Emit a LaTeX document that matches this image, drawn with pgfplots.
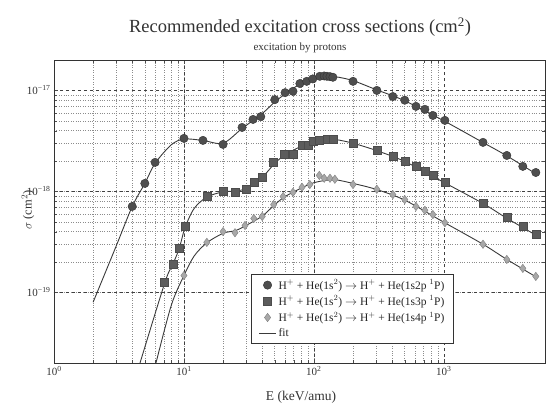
\documentclass[border=0pt]{standalone}
\usepackage{fontspec}
\setmainfont{Liberation Serif}
\usepackage{pgfplots}
\pgfplotsset{compat=1.18}
\usepackage{pgfplotstable}
\definecolor{cA}{HTML}{4E4E4E}
\definecolor{cB}{HTML}{5C5C5C}
\definecolor{cC}{HTML}{A8A8A8}
\definecolor{fitc}{HTML}{3A3A3A}

\pgfplotstableread{
x y
4 7.1e-19
5 1.2e-18
6 1.94e-18
10 3.35e-18
14 3.2e-18
20 2.92e-18
28 4.3e-18
34 5.16e-18
39 5.5e-18
50 8.1e-18
60 9.5e-18
69 9.8e-18
78 1.17e-17
88 1.23e-17
98 1.3e-17
111 1.38e-17
120 1.39e-17
126 1.38e-17
133 1.37e-17
140 1.35e-17
200 1.23e-17
305 1.0e-17
405 8.7e-18
500 8.0e-18
610 6.95e-18
714 6.5e-18
823 5.65e-18
1018 5.05e-18
2000 3.06e-18
3050 2.27e-18
4050 1.77e-18
5100 1.54e-18
}\dataA

\pgfplotstableread{
x y
7.1 1.26e-19
8.2 1.89e-19
9.2 2.73e-19
10.2 4.5e-19
15 8.9e-19
20 1.0e-18
25 9.8e-19
30 1.05e-18
34.5 1.23e-18
40 1.38e-18
49 1.94e-18
59 2.32e-18
69 2.32e-18
81 2.85e-18
90 2.9e-18
98 3.13e-18
110 3.2e-18
126 3.27e-18
140 3.27e-18
200 2.99e-18
305 2.55e-18
405 2.22e-18
500 1.98e-18
610 1.77e-18
714 1.58e-18
823 1.44e-18
1018 1.23e-18
2000 7.6e-19
3050 5.53e-19
4050 4.5e-19
5100 3.75e-19
}\dataB

\pgfplotstableread{
x y
10 1.47e-19
15 3.13e-19
20 4.0e-19
24.7 3.9e-19
29.5 4.6e-19
34.5 5.4e-19
40 5.65e-19
49 7.4e-19
58 8.9e-19
69 9.8e-19
81 1.1e-18
93 1.17e-18
110 1.44e-18
120 1.35e-18
133 1.35e-18
145 1.32e-18
200 1.17e-18
305 1.05e-18
405 9.3e-19
500 8.3e-19
610 7.1e-19
714 6.5e-19
823 5.9e-19
1018 4.9e-19
2000 3.0e-19
3050 2.12e-19
4050 1.73e-19
5100 1.44e-19
}\dataC

\pgfplotstableread{
x y
2 8e-20
3 2.85e-19
4 7.1e-19
5 1.2e-18
6 1.9e-18
8 2.9e-18
10 3.3e-18
14 3.2e-18
20 3.0e-18
28 4.2e-18
40 5.9e-18
50 7.7e-18
60 9.2e-18
80 1.18e-17
100 1.32e-17
125 1.38e-17
150 1.36e-17
200 1.25e-17
300 1.02e-17
500 7.9e-18
1000 5.0e-18
2000 3.05e-18
3000 2.28e-18
5000 1.52e-18
}\fitA

\pgfplotstableread{
x y
4.59 2e-20
7.14 1.26e-19
8.2 1.89e-19
9.2 2.73e-19
10.2 4.4e-19
12 6.8e-19
15 8.8e-19
20 9.9e-19
25 1.01e-18
30 1.07e-18
40 1.38e-18
50 1.9e-18
60 2.3e-18
80 2.8e-18
100 3.1e-18
130 3.25e-18
150 3.25e-18
200 3.0e-18
300 2.55e-18
500 1.98e-18
1000 1.23e-18
2000 7.6e-19
3000 5.5e-19
5000 3.75e-19
}\fitB

\pgfplotstableread{
x y
6.09 2e-20
8 7.5e-20
10 1.47e-19
12 2.3e-19
15 3.1e-19
20 3.85e-19
25 4.1e-19
30 4.6e-19
40 5.7e-19
50 7.4e-19
60 8.9e-19
80 1.08e-18
100 1.22e-18
130 1.3e-18
150 1.3e-18
200 1.2e-18
300 1.05e-18
500 8.2e-19
1000 4.95e-19
2000 3.0e-19
3000 2.15e-19
5000 1.45e-19
}\fitC

\begin{document}
\begin{tikzpicture}
\begin{axis}[
  at={(0,0)}, anchor=south west,
  scale only axis,
  width=491pt, height=303pt,
  xmode=log, ymode=log,
  xmin=1, xmax=6000,
  ymin=2e-20, ymax=2e-17,
  grid=both,
  major grid style={black!75, dashed, line width=0.6pt},
  minor grid style={black!45, dotted, line width=0.6pt},
  axis line style={black!80, line width=0.8pt},
  tick style={black!70},
  xtick={1,10,100,1000},
  ytick={1e-19,1e-18,1e-17},
  xticklabel={\pgfmathparse{int(round(\tick/ln(10)))}10\textsuperscript{\pgfmathresult}},
  yticklabel={\pgfmathparse{int(round(-\tick/ln(10)))}10\textsuperscript{−\pgfmathresult}},
  tick label style={font=\fontsize{11}{13}\selectfont, text=black!80},
  xlabel={E (keV/amu)},
  xlabel style={font=\fontsize{13.5}{15}\selectfont, text=black!80, at={(axis description cs:0.503,-0.112)}, anchor=center},
  ylabel={$\sigma$ (cm$^2$)},
  ylabel style={font=\fontsize{12.5}{14}\selectfont, text=black!80, at={(axis description cs:-0.053,0.505)}, anchor=center},
  legend style={at={(0.814,0.066)}, anchor=south east, draw=black!80, fill=white,
    font=\fontsize{11.5}{13}\selectfont, text=black!85, row sep=1.2pt, inner ysep=3pt, inner xsep=7pt},
  legend cell align=left,
]
\addplot[only marks, mark=*, mark size=4.2pt, mark options={fill=cA, draw=black!80}] table {\dataA};
\addlegendentry{H$^+$ + He(1s$^2$) $\rightarrow$ H$^+$ + He(1s2p $^1$P)}
\addplot[only marks, mark=square*, mark size=4pt, mark options={fill=cB, draw=black!70}] table {\dataB};
\addlegendentry{H$^+$ + He(1s$^2$) $\rightarrow$ H$^+$ + He(1s3p $^1$P)}
\addplot[only marks, mark=diamond*, mark size=4.2pt, mark options={fill=cC, draw=black!50}] table {\dataC};
\addlegendentry{H$^+$ + He(1s$^2$) $\rightarrow$ H$^+$ + He(1s4p $^1$P)}
\addplot[fitc, line width=0.9pt, smooth, tension=0.5, no markers] table {\fitA};
\addlegendentry{fit}
\addplot[fitc, line width=0.9pt, smooth, tension=0.5, no markers, forget plot] table {\fitB};
\addplot[fitc, line width=0.9pt, smooth, tension=0.5, no markers, forget plot] table {\fitC};
\end{axis}
\node[font=\fontsize{18.5}{20}\selectfont, text=black!80] at (246pt,336pt) {Recommended excitation cross sections (cm\textsuperscript{2})};
\node[font=\fontsize{11}{12}\selectfont, text=black!80] at (246pt,315pt) {excitation by protons};
\pgfresetboundingbox
\path (-54pt,-43pt) rectangle (493pt,363pt);
\end{tikzpicture}
\end{document}
